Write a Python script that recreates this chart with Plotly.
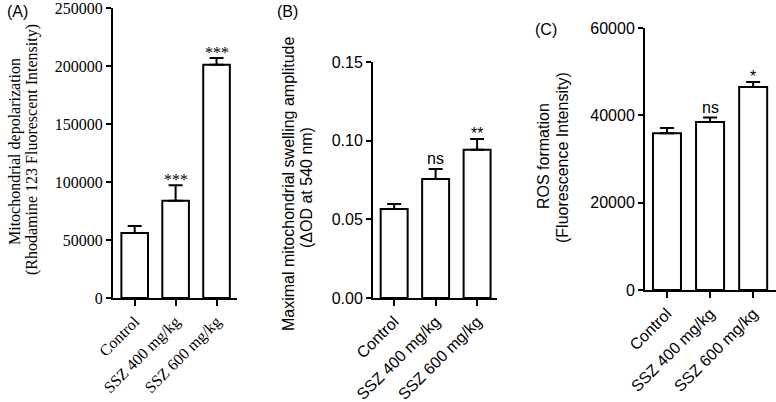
import plotly.graph_objects as go

W, H = 776, 402

categories = ["Control", "SSZ 400 mg/kg", "SSZ 600 mg/kg"]

depol_values = [56000, 83800, 201000]
depol_errors = [6000, 13400, 6000]
depol_marks = ["", "***", "***"]

swell_values = [0.0565, 0.0756, 0.0942]
swell_errors = [0.0032, 0.0064, 0.0068]
swell_marks = ["", "ns", "**"]

ros_values = [35900, 38500, 46500]
ros_errors = [1200, 1000, 1150]
ros_marks = ["", "ns", "*"]

SERIF = "Liberation Serif, Times New Roman, serif"
SANS = "Liberation Sans, Arial, sans-serif"


def px_x(x):
    return x / W


def px_y(y):
    return 1 - y / H


panels = [
    dict(vals=depol_values, errs=depol_errors, marks=depol_marks, font=SERIF,
         xd=[px_x(113), px_x(237)], yd=[px_y(298), px_y(8)], xr=[-0.53, 2.5],
         yr=[0, 250000], dtick=50000, fmt="d"),
    dict(vals=swell_values, errs=swell_errors, marks=swell_marks, font=SANS,
         xd=[px_x(373), px_x(497)], yd=[px_y(298), px_y(62)], xr=[-0.51, 2.48],
         yr=[0, 0.15], dtick=0.05, fmt=".2f"),
    dict(vals=ros_values, errs=ros_errors, marks=ros_marks, font=SANS,
         xd=[px_x(645), 1.0], yd=[px_y(290), px_y(28)], xr=[-0.51, 2.53],
         yr=[0, 60000], dtick=20000, fmt="d"),
]

fig = go.Figure()
annotations = []
layout = {}
for i, p in enumerate(panels, start=1):
    xa = "x" if i == 1 else f"x{i}"
    ya = "y" if i == 1 else f"y{i}"
    fig.add_trace(go.Bar(
        x=categories, y=p["vals"], xaxis=xa, yaxis=ya, width=0.65,
        marker=dict(color="white", line=dict(color="black", width=2)),
        error_y=dict(type="data", symmetric=False, array=p["errs"],
                     arrayminus=[0] * len(p["errs"]), color="black",
                     thickness=2, width=7),
        showlegend=False, hoverinfo="skip",
    ))
    tickfont = dict(family=p["font"], size=16, color="black")
    layout["xaxis" if i == 1 else f"xaxis{i}"] = dict(
        domain=p["xd"], anchor=ya, range=p["xr"], type="category",
        showline=True, linecolor="black", linewidth=2, ticks="outside",
        ticklen=6, tickwidth=2, tickcolor="black", tickangle=-45,
        tickfont=tickfont, showgrid=False, zeroline=False, fixedrange=True,
        automargin=False, ticklabeloverflow="allow",
    )
    layout["yaxis" if i == 1 else f"yaxis{i}"] = dict(
        domain=p["yd"], anchor=xa, range=p["yr"], dtick=p["dtick"], tick0=0,
        tickformat=p["fmt"], showline=True, linecolor="black", linewidth=2,
        ticks="outside", ticklen=5, tickwidth=2, tickcolor="black",
        tickfont=tickfont, showgrid=False, zeroline=False, fixedrange=True,
        automargin=False, ticklabeloverflow="allow",
    )
    for c, v, e, m in zip(categories, p["vals"], p["errs"], p["marks"]):
        if m:
            annotations.append(dict(
                x=c, y=v + e, xref=xa, yref=ya, text=m, showarrow=False,
                yanchor="bottom", yshift=(-5 if "*" in m else 0),
                font=dict(family=p["font"], size=16, color="black"),
            ))

# panel letters
for txt, x, y in [("(A)", 17, 12), ("(B)", 287, 12), ("(C)", 546, 30)]:
    annotations.append(dict(x=px_x(x), y=px_y(y), xref="paper", yref="paper",
                            text=txt, showarrow=False, xanchor="center",
                            yanchor="middle",
                            font=dict(family=SANS, size=16, color="black")))

# y-axis titles
ytitles = [
    ("Mitochondrial depolarization", 15, 152, SERIF),
    ("(Rhodamine 123 Fluorescent Intensity)", 32, 150, SERIF),
    ("Maximal mitochondrial swelling amplitude", 288, 184, SANS),
    ("(ΔOD at 540 nm)", 306, 188, SANS),
    ("ROS formation", 543, 156, SANS),
    ("(Fluorescence Intensity)", 562, 158, SANS),
]
for txt, x, y, fam in ytitles:
    annotations.append(dict(x=px_x(x), y=px_y(y), xref="paper", yref="paper",
                            text=txt, showarrow=False, textangle=-90,
                            xanchor="center", yanchor="middle",
                            font=dict(family=fam, size=16, color="black")))

fig.update_layout(
    template="none",
    width=W, height=H, margin=dict(l=0, r=0, t=0, b=0, autoexpand=False),
    paper_bgcolor="white", plot_bgcolor="white",
    annotations=annotations, bargap=0.35, **layout,
)

# remove the browser's default 8px body margin so the figure fills the window
fig.write_html("out.html", config={"displayModeBar": False, "staticPlot": True},
               post_script="document.body.style.margin='0';")
